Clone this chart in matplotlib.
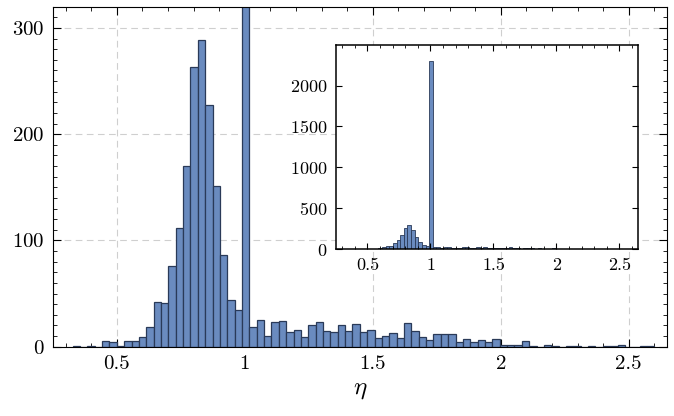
import numpy as np
import matplotlib
matplotlib.use("Agg")
import matplotlib.pyplot as plt
from matplotlib.ticker import MultipleLocator

plt.rcParams['font.family'] = 'serif'
plt.rcParams['font.serif'] = ['cmr10']
plt.rcParams['mathtext.fontset'] = 'cm'
plt.rcParams['axes.formatter.use_mathtext'] = True

# histogram of eta: 79 bins between the smallest and largest value
eta_min, eta_max = 0.328, 2.6
counts = [1, 0, 1, 0, 5, 4, 1, 5, 5, 9, 19, 42, 41, 76, 112, 170, 263, 289, 227, 151, 86, 44, 35,
          2300,
          19, 25, 10, 23, 24, 14, 16, 9, 20, 23, 15, 14, 20, 15, 21, 14, 16, 8, 10, 13, 8, 22,
          15, 9, 6, 12, 12, 12,
          4, 7, 4, 6, 4, 7, 2, 2, 2, 5, 1, 0, 2, 1, 0, 1, 1, 0, 1, 0, 1, 1, 2, 0, 0, 1, 1]
xticks = [0.5, 1, 1.5, 2, 2.5]
xtick_labels = ['0.5', '1', '1.5', '2', '2.5']

edges = np.linspace(eta_min, eta_max, len(counts) + 1)
widths = np.diff(edges)

face = '#6a8bbf'
edge = '#2a3a58'

fig = plt.figure(figsize=(6.74, 4.16), dpi=100)

# main axes
ax = fig.add_axes([0.0782, 0.1666, 0.9116, 0.8174])
ax.bar(edges[:-1], counts, width=widths, align='edge', color=face,
       edgecolor=edge, linewidth=0.9)
ax.set_xlim(0.25, 2.65)
ax.set_ylim(0, 320)
ax.set_xticks(xticks)
ax.set_xticklabels(xtick_labels)
ax.set_yticks([0, 100, 200, 300])
ax.xaxis.set_minor_locator(MultipleLocator(0.1))
ax.yaxis.set_minor_locator(MultipleLocator(10))
ax.tick_params(which='both', direction='in', top=True, right=True, labelsize=15, pad=6)
ax.tick_params(which='major', length=6, width=0.8)
ax.tick_params(which='minor', length=3, width=0.6)
ax.grid(True, which='major', color='#cfcfcf', linestyle=(0, (6, 4)), linewidth=0.8)
ax.set_axisbelow(True)
ax.set_xlabel(r'$\eta$', fontsize=18, labelpad=4)
for s in ax.spines.values():
    s.set_linewidth(0.8)

# inset with the full spike
ins = fig.add_axes([0.4985, 0.4014, 0.4486, 0.4911])
ins.bar(edges[:-1], counts, width=widths, align='edge', color=face,
        edgecolor=edge, linewidth=0.6)
ins.set_xlim(0.25, 2.65)
ins.set_ylim(0, 2500)
ins.set_xticks(xticks)
ins.set_xticklabels(xtick_labels)
ins.set_yticks([0, 500, 1000, 1500, 2000])
ins.xaxis.set_minor_locator(MultipleLocator(0.1))
ins.tick_params(which='both', direction='in', top=True, right=True, labelsize=13, pad=6)
ins.tick_params(which='major', length=4, width=0.8)
ins.tick_params(which='minor', length=2, width=0.6)
for s in ins.spines.values():
    s.set_linewidth(1.1)

fig.savefig('out.png', dpi=100)
